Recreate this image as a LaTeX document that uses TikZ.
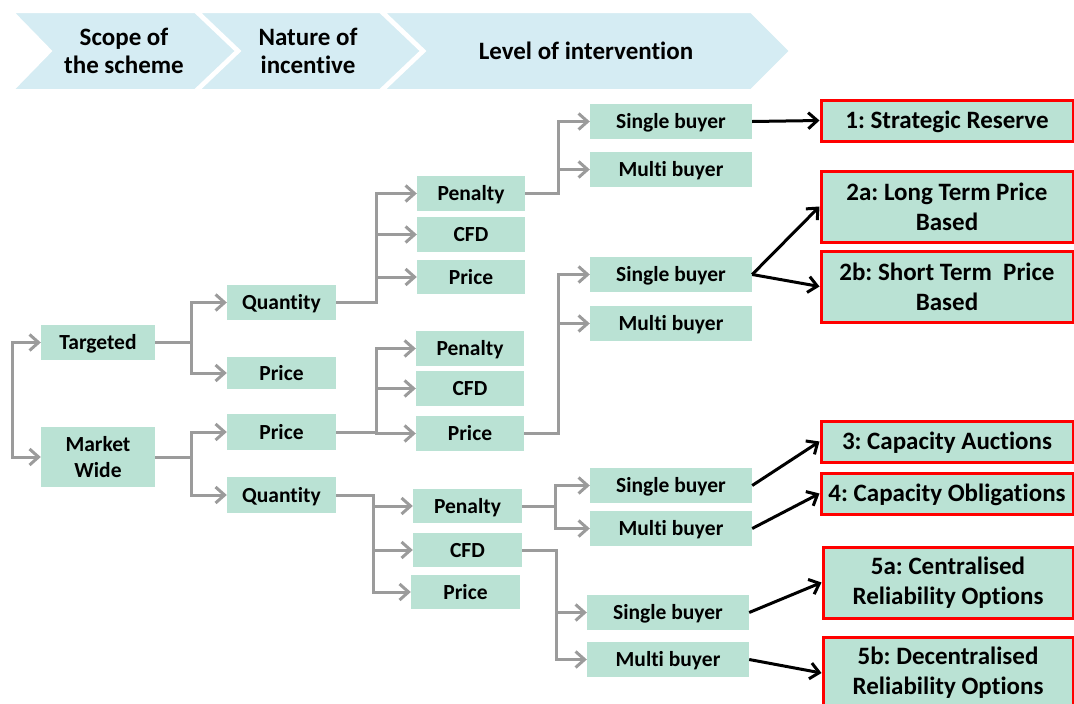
\documentclass[tikz,border=0pt]{standalone}
\usepackage{fontspec}
\setmainfont{Carlito}[Ligatures=NoCommon]
\usetikzlibrary{arrows.meta}
\definecolor{boxgreen}{RGB}{186,226,212}
\definecolor{hdrblue}{RGB}{213,236,243}
\definecolor{linegray}{RGB}{155,155,155}
\frenchspacing

\begin{document}
\begin{tikzpicture}[x=1pt, y=-1pt,
		every node/.style={font=\fontsize{21.5}{26}\selectfont\bfseries, align=center, inner sep=0pt},
		box/.style={fill=boxgreen, minimum height=35pt, text height=16pt, text depth=2pt},
		outbox/.style={fill=boxgreen, draw=red, line width=3pt, minimum width=252pt, font=\fontsize{25}{30}\selectfont\bfseries},
		oneline/.style={text height=18pt, text depth=2pt},
		chev/.style={fill=hdrblue, draw=white, line width=2pt},
		hdr/.style={font=\fontsize{25}{28}\selectfont\bfseries},
		garrow/.style={draw=linegray, line width=3pt, -{Straight Barb[length=9pt, width=16pt]}},
		barrow/.style={draw=black, line width=3pt, -{Straight Barb[length=9pt, width=16pt]}}]
	\useasboundingbox (0,0) rectangle (1074,704);

	\fill[chev] (13,12) -- (195,12) -- (236,51) -- (195,90) -- (13,90) -- (51,51) -- cycle;
	\fill[chev] (199,12) -- (380,12) -- (421,51) -- (380,90) -- (199,90) -- (240,51) -- cycle;
	\fill[chev] (384,12) -- (751,12) -- (790,51) -- (751,90) -- (384,90) -- (425,51) -- cycle;
	\node[hdr] (hdrA) at (124,51) {Scope of\\the scheme};
	\node[hdr] (hdrB) at (308,51) {Nature of\\incentive};
	\node[hdr] (hdrC) at (586,51) {Level of intervention};

	\node[box, minimum width=114pt] (tgt) at (98,342.5) {Targeted};
	\node[fill=boxgreen, minimum width=114pt, minimum height=60pt] (mkt) at (98,457) {Market\\Wide};

	\node[box, minimum width=109pt] (qtyT) at (281.5,302.5) {Quantity};
	\node[box, minimum width=109pt, minimum height=32pt] (priT) at (281.5,373) {Price};
	\node[box, minimum width=109pt, minimum height=36pt] (priM) at (281.5,432) {Price};
	\node[box, minimum width=109pt, minimum height=36pt] (qtyM) at (281.5,495) {Quantity};

	\node[box, minimum width=108pt] (penA) at (471,193.5) {Penalty};
	\node[box, minimum width=108pt] (cfdA) at (471,234.5) {CFD};
	\node[box, minimum width=108pt, minimum height=34pt] (priA) at (471,277) {Price};
	\node[box, minimum width=108pt] (penB) at (470,348.5) {Penalty};
	\node[box, minimum width=108pt] (cfdB) at (470,388.5) {CFD};
	\node[box, minimum width=108pt] (priB) at (470,433.5) {Price};
	\node[box, minimum width=109pt, minimum height=34pt] (penC) at (467.5,506) {Penalty};
	\node[box, minimum width=109pt, minimum height=34pt] (cfdC) at (467.5,550) {CFD};
	\node[box, minimum width=109pt, minimum height=34pt] (priC) at (465.5,592) {Price};

	\node[box, minimum width=162pt] (sbA) at (671,121.5) {Single buyer};
	\node[box, minimum width=162pt] (mbA) at (671,169.5) {Multi buyer};
	\node[box, minimum width=162pt] (sbB) at (671,274.5) {Single buyer};
	\node[box, minimum width=162pt] (mbB) at (671,323.5) {Multi buyer};
	\node[box, minimum width=162pt] (sbC) at (671,485.5) {Single buyer};
	\node[box, minimum width=162pt] (mbC) at (671,528.5) {Multi buyer};
	\node[box, minimum width=162pt] (sbD) at (668,612.5) {Single buyer};
	\node[box, minimum width=162pt] (mbD) at (668,659.5) {Multi buyer};

	\node[outbox, oneline, minimum height=41pt] (out1) at (947,120.5) {1: Strategic Reserve};
	\node[outbox, minimum height=71pt] (out2a) at (947,206.5) {2a: Long Term Price\\Based};
	\node[outbox, minimum height=71pt] (out2b) at (947,286.5) {2b: Short Term~~Price\\Based};
	\node[outbox, oneline, minimum height=41pt] (out3) at (947,441.5) {3: Capacity Auctions};
	\node[outbox, oneline, minimum height=41pt] (out4) at (947,493.5) {4: Capacity Obligations};
	\node[outbox, minimum width=250pt, minimum height=71pt] (out5a) at (948,582.5) {5a: Centralised\\Reliability Options};
	\node[outbox, minimum width=250pt, minimum height=72pt] (out5b) at (948,673) {5b: Decentralised\\Reliability Options};

	\coordinate (root) at (12,400);
	\draw[garrow] (root) |- (tgt.west);
	\draw[garrow] (root) |- (mkt.west);

	\draw[garrow] (tgt.east) -- ++(36,0) |- (qtyT.west);
	\draw[garrow] (tgt.east) -- ++(36,0) |- (priT.west);
	\draw[garrow] (mkt.east) -- ++(36,0) |- (priM.west);
	\draw[garrow] (mkt.east) -- ++(36,0) |- (qtyM.west);

	\draw[garrow] (qtyT.east) -- ++(40,0) |- (penA.west);
	\draw[garrow] (qtyT.east) -- ++(40,0) |- (cfdA.west);
	\draw[garrow] (qtyT.east) -- ++(40,0) |- (priA.west);
	\draw[garrow] (priM.east) -- ++(40,0) |- (penB.west);
	\draw[garrow] (priM.east) -- ++(40,0) |- (cfdB.west);
	\draw[garrow] (priM.east) -- ++(40,0) |- (priB.west);
	\draw[garrow] (qtyM.east) -- ++(37,0) |- (penC.west);
	\draw[garrow] (qtyM.east) -- ++(37,0) |- (cfdC.west);
	\draw[garrow] (qtyM.east) -- ++(37,0) |- (priC.west);

	\draw[garrow] (penA.east) -- ++(33,0) |- (sbA.west);
	\draw[garrow] (penA.east) -- ++(33,0) |- (mbA.west);
	\draw[garrow] (priB.east) -- ++(34,0) |- (sbB.west);
	\draw[garrow] (priB.east) -- ++(34,0) |- (mbB.west);
	\draw[garrow] (penC.east) -- ++(33,0) |- (sbC.west);
	\draw[garrow] (penC.east) -- ++(33,0) |- (mbC.west);
	\draw[garrow] (cfdC.east) -- ++(34,0) |- (sbD.west);
	\draw[garrow] (cfdC.east) -- ++(34,0) |- (mbD.west);

	\draw[barrow] (sbA.east) -- (out1.west);
	\draw[barrow] (sbB.east) -- (out2a.west);
	\draw[barrow] (sbB.east) -- (out2b.west);
	\draw[barrow] (sbC.east) -- (out3.west);
	\draw[barrow] (mbC.east) -- (out4.west);
	\draw[barrow] (sbD.east) -- (out5a.west);
	\draw[barrow] (mbD.east) -- (out5b.west);
\end{tikzpicture}
\end{document}
